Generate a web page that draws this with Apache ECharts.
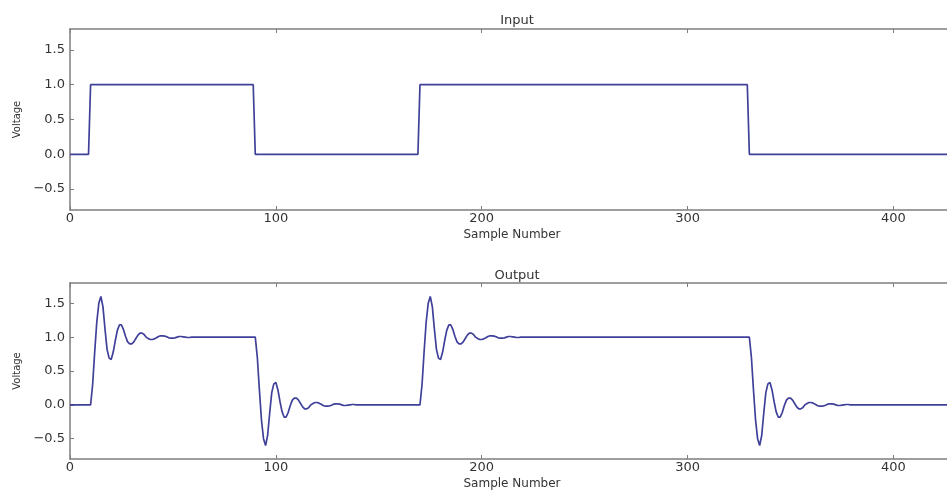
<!DOCTYPE html>
<html>
<head>
<meta charset="utf-8">
<script src="https://cdn.jsdelivr.net/npm/echarts@6/dist/echarts.min.js"></script>
<style>
  html, body { margin: 0; padding: 0; background: #fff; }
  #chart { width: 947px; height: 491px; }
</style>
</head>
<body>
<div id="chart"></div>
<script>
// Input square wave: [sample, voltage] corners
const inputPoints = [
  [0, 0], [9, 0], [10, 1], [89, 1], [90, 0],
  [169, 0], [170, 1], [329, 1], [330, 0], [430, 0]
];

// Filter output around each edge, one value per sample
const riseOneStart = 10;
const riseOne = [
  0.00, 0.30, 0.78, 1.22, 1.50, 1.60, 1.45, 1.12, 0.82, 0.69,
  0.67, 0.78, 0.95, 1.10, 1.18, 1.18, 1.11, 1.01, 0.93, 0.90,
  0.90, 0.93, 0.98, 1.03, 1.06, 1.06, 1.04, 1.00, 0.98, 0.965,
  0.965, 0.975, 0.99, 1.01, 1.02, 1.02, 1.015, 1.005, 0.99, 0.985,
  0.985, 0.99, 1.00, 1.01, 1.01, 1.005, 1.00, 0.995, 0.995, 1.00, 1.00
];
const fallOneStart = 90;
const fallOne = [
  1.00, 0.70, 0.22, -0.22, -0.50, -0.60, -0.45, -0.12, 0.18, 0.31,
  0.33, 0.22, 0.05, -0.10, -0.18, -0.18, -0.11, -0.01, 0.07, 0.10,
  0.10, 0.07, 0.02, -0.03, -0.06, -0.06, -0.04, 0.00, 0.02, 0.035,
  0.035, 0.025, 0.01, -0.01, -0.02, -0.02, -0.015, -0.005, 0.01, 0.015,
  0.015, 0.01, 0.00, -0.01, -0.01, -0.005, 0.00, 0.005, 0.005, 0.00, 0.00
];
const riseTwoStart = 170;
const riseTwo = [
  0.00, 0.30, 0.78, 1.22, 1.50, 1.60, 1.45, 1.12, 0.82, 0.69,
  0.67, 0.78, 0.95, 1.10, 1.18, 1.18, 1.11, 1.01, 0.93, 0.90,
  0.90, 0.93, 0.98, 1.03, 1.06, 1.06, 1.04, 1.00, 0.98, 0.965,
  0.965, 0.975, 0.99, 1.01, 1.02, 1.02, 1.015, 1.005, 0.99, 0.985,
  0.985, 0.99, 1.00, 1.01, 1.01, 1.005, 1.00, 0.995, 0.995, 1.00, 1.00
];
const fallTwoStart = 330;
const fallTwo = [
  1.00, 0.70, 0.22, -0.22, -0.50, -0.60, -0.45, -0.12, 0.18, 0.31,
  0.33, 0.22, 0.05, -0.10, -0.18, -0.18, -0.11, -0.01, 0.07, 0.10,
  0.10, 0.07, 0.02, -0.03, -0.06, -0.06, -0.04, 0.00, 0.02, 0.035,
  0.035, 0.025, 0.01, -0.01, -0.02, -0.02, -0.015, -0.005, 0.01, 0.015,
  0.015, 0.01, 0.00, -0.01, -0.01, -0.005, 0.00, 0.005, 0.005, 0.00, 0.00
];
const xEnd = 430;      // last sample of the record
const xVisible = 426;  // right edge of the visible window

const xTicks = [0, 100, 200, 300, 400];
const yTicks = [-0.5, 0.0, 0.5, 1.0, 1.5];
const yMin = -0.8, yMax = 1.8;

// Assemble output polyline from the edge responses
function pairs(start, vals) {
  return vals.map((v, i) => [start + i, v]);
}
const outputPoints = [[0, 0]]
  .concat(pairs(riseOneStart, riseOne))
  .concat(pairs(fallOneStart, fallOne))
  .concat(pairs(riseTwoStart, riseTwo))
  .concat(pairs(fallTwoStart, fallTwo))
  .concat([[xEnd, 0]]);

const FONT = 'DejaVu Sans';
const frame = '#7d7d7d';
const textCol = '#333333';
const lineCol = '#40409a';
const spine = { show: true, onZero: false, lineStyle: { color: frame, width: 1.5 } };

function bottomX(gi) {
  return {
    type: 'value', gridIndex: gi, min: 0, max: xVisible, position: 'bottom',
    name: 'Sample Number', nameLocation: 'middle', nameGap: 19,
    nameTextStyle: { fontFamily: FONT, fontSize: 12, color: textCol, padding: [0, 0, 0, 7] },
    axisLine: spine,
    axisTick: { show: true, inside: true, length: 4, customValues: xTicks, lineStyle: { color: frame } },
    axisLabel: { customValues: xTicks, fontFamily: FONT, fontSize: 13, color: textCol, margin: 2 },
    splitLine: { show: false }
  };
}
function topX(gi) {
  return {
    type: 'value', gridIndex: gi, min: 0, max: xVisible, position: 'top',
    axisLine: spine,
    axisTick: { show: true, inside: true, length: 4, customValues: xTicks, lineStyle: { color: frame } },
    axisLabel: { show: false },
    splitLine: { show: false }
  };
}
function leftY(gi) {
  return {
    type: 'value', gridIndex: gi, min: yMin, max: yMax,
    name: 'Voltage', nameLocation: 'middle', nameRotate: 90, nameGap: 47,
    nameTextStyle: { fontFamily: FONT, fontSize: 10, color: textCol },
    axisLine: spine,
    axisTick: { show: true, inside: true, length: 4, customValues: yTicks, lineStyle: { color: frame } },
    axisLabel: {
      customValues: yTicks, fontFamily: FONT, fontSize: 13, color: textCol, margin: 5,
      formatter: v => (v < 0 ? '\u2212' : '') + Math.abs(v).toFixed(1)
    },
    splitLine: { show: false }
  };
}

const chart = echarts.init(document.getElementById('chart'), null, { renderer: 'canvas' });
chart.setOption({
  backgroundColor: '#ffffff',
  animation: false,
  title: [
    { text: 'Input', left: 512, top: 9, textAlign: 'center',
      textStyle: { fontFamily: FONT, fontSize: 13, fontWeight: 'normal', color: textCol } },
    { text: 'Output', left: 512, top: 264, textAlign: 'center',
      textStyle: { fontFamily: FONT, fontSize: 13, fontWeight: 'normal', color: textCol } }
  ],
  grid: [
    { left: 70, right: 0, top: 29, height: 181 },
    { left: 70, right: 0, top: 283, height: 180 }
  ],
  xAxis: [bottomX(0), topX(0), bottomX(1), topX(1)],
  yAxis: [leftY(0), leftY(1)],
  series: [
    { name: 'Input', type: 'line', xAxisIndex: 0, yAxisIndex: 0, data: inputPoints,
      showSymbol: false, lineStyle: { color: lineCol, width: 1.7 }, itemStyle: { color: lineCol } },
    { name: 'Output', type: 'line', xAxisIndex: 2, yAxisIndex: 1, data: outputPoints,
      showSymbol: false, lineStyle: { color: lineCol, width: 1.7 }, itemStyle: { color: lineCol } }
  ]
});
</script>
</body>
</html>
